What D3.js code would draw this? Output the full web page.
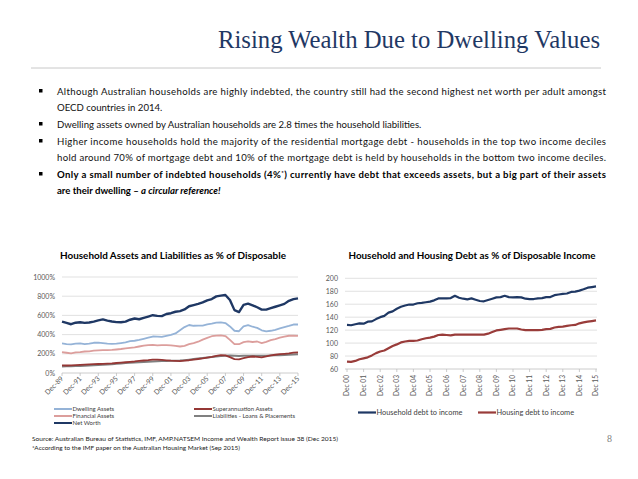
<!DOCTYPE html>
<html>
<head>
<meta charset="utf-8">
<script src="https://d3js.org/d3.v7.min.js"></script>
<style>
body { margin: 0; background: #fff; }
text { font-family: Lato, "Liberation Sans", sans-serif; }
</style>
</head>
<body>
<svg id="slide" width="638" height="479"></svg>
<script>
// ---- data ----
// left chart: half-yearly, Dec-89 .. Dec-15
var leftTicks = ["Dec-89","Dec-91","Dec-93","Dec-95","Dec-97","Dec-99","Dec-01","Dec-03","Dec-05","Dec-07","Dec-09","Dec-11","Dec-13","Dec-15"];
var leftYTicks = [0, 200, 400, 600, 800, 1000];
var dwellingAssets = [308,301,298,306,308,301,305,315,316,312,307,304,305,312,320,332,336,345,356,368,380,378,377,387,397,412,445,478,500,492,494,494,507,515,525,528,520,485,440,435,485,498,482,470,445,433,440,450,465,478,490,505,505];
var financialAssets = [218,211,205,214,218,224,226,233,236,238,239,241,245,250,257,262,266,276,286,291,293,287,290,291,288,282,276,283,300,312,326,348,366,383,390,392,385,345,300,300,322,330,323,328,312,325,342,354,368,378,388,390,387];
var netWorth = [536,522,508,524,528,522,526,535,548,558,545,536,530,528,535,555,568,560,575,588,602,595,592,615,623,638,645,662,695,707,720,735,757,770,798,806,812,760,655,635,710,722,705,685,660,660,675,690,705,720,752,770,778];
var superAssets = [80,78,80,82,85,87,90,92,94,96,98,100,104,108,112,116,120,126,130,134,140,140,136,132,128,126,124,128,133,140,146,152,160,168,178,186,184,165,145,142,155,165,172,168,163,172,183,190,196,200,204,212,214];
var liabilities = [68,70,71,72,74,76,78,80,83,86,89,92,96,100,103,106,109,112,114,117,120,122,124,125,127,128,130,134,139,145,151,157,162,166,171,176,180,181,180,178,179,180,180,180,179,180,182,184,186,188,190,193,196];

// right chart: quarterly, Dec 00 .. Dec 15
var rightTicks = ["Dec 00","Dec 01","Dec 02","Dec 03","Dec 04","Dec 05","Dec 06","Dec 07","Dec 08","Dec 09","Dec 10","Dec 11","Dec 12","Dec 13","Dec 14","Dec 15"];
var rightYTicks = [60, 80, 100, 120, 140, 160, 180, 200];
var householdDebt = [128,127.5,129,130.5,130,133,133.5,137,140,142,147,149,153,156,158,159.5,159.5,161.5,162,163,164,166,169,169,169,169.5,173,170,168.5,167.5,169,167,165,164.5,166.5,168.5,170.5,171,173,171,170.5,171,170.5,168.5,168,168,169,169.5,171,171,174,175,176,176.5,179,179.5,181,183,185.5,186.5,187.5];
var housingDebt = [71.5,71,72.5,75,76.5,78,81,84.5,87,88.5,92,95.5,98,101,102.5,103.5,103.5,104,106,107.5,108.5,110,112.5,113,112.5,112,113,113,113,113,113,113,113,113,114.5,117,119.5,120.5,121.5,122.5,122.5,122.5,121,120,120,120,120,120.5,121.5,122,124,125,125.5,126.5,127.5,128,130.5,132,133,134,135];

var leftSeries = [
  {name: "Dwelling Assets", values: dwellingAssets, color: "#95b3d7", w: 1.8},
  {name: "Financial Assets", values: financialAssets, color: "#dc9e9c", w: 1.8},
  {name: "Liabilities - Loans & Placements", values: liabilities, color: "#808080", w: 2},
  {name: "Superannuation Assets", values: superAssets, color: "#953735", w: 1.8},
  {name: "Net Worth", values: netWorth, color: "#1f3864", w: 2.4}
];
var rightSeries = [
  {name: "Household debt to income", values: householdDebt, color: "#1f3864", w: 2.2},
  {name: "Housing debt to income", values: housingDebt, color: "#993c3a", w: 2.2}
];

var svg = d3.select("#slide");

// ---- header ----
svg.append("text")
  .attr("x", 600).attr("y", 48)
  .attr("text-anchor", "end")
  .style("font-family", "'Liberation Serif', serif")
  .attr("font-size", 25)
  .attr("textLength", 382).attr("lengthAdjust", "spacingAndGlyphs")
  .attr("fill", "#1f3864")
  .text("Rising Wealth Due to Dwelling Values");

svg.append("line")
  .attr("x1", 31).attr("x2", 601).attr("y1", 68).attr("y2", 68)
  .attr("stroke", "#c8c8c8").attr("stroke-width", 1);

// ---- bullets ----
var bulletLines = [
  {y: 95, text: "Although Australian households are highly indebted, the country still had the second highest net worth per adult amongst", bullet: true, justify: true},
  {y: 111, text: "OECD countries in 2014."},
  {y: 128, text: "Dwelling assets owned by Australian households are 2.8 times the household liabilities.", bullet: true},
  {y: 145, text: "Higher income households hold the majority of the residential mortgage debt - households in the top two income deciles", bullet: true, justify: true},
  {y: 161, text: "hold around 70% of mortgage debt and 10% of the mortgage debt is held by households in the bottom two income deciles.", justify: true}
];
var tx = 57, tEnd = 606;
bulletLines.forEach(function(d) {
  if (d.bullet) {
    svg.append("rect").attr("x", 39).attr("y", d.y - 6).attr("width", 3.5).attr("height", 3.5).attr("fill", "#000");
  }
  var t = svg.append("text").attr("x", tx).attr("y", d.y)
    .attr("font-size", 9.6).attr("fill", "#111").text(d.text);
  if (d.justify) t.attr("textLength", tEnd - tx).attr("lengthAdjust", "spacing");
});

svg.append("rect").attr("x", 39).attr("y", 172).attr("width", 3.5).attr("height", 3.5).attr("fill", "#000");
var b6 = svg.append("text").attr("x", tx).attr("y", 178)
  .attr("font-size", 9.6).attr("font-weight", "bold")
  .attr("textLength", tEnd - tx).attr("lengthAdjust", "spacing");
b6.append("tspan").text("Only a small number of indebted households (4%");
b6.append("tspan").attr("font-size", 6).attr("dy", -3).text("*");
b6.append("tspan").attr("dy", 3).text(") currently have debt that exceeds assets, but a big part of their assets");
var b7 = svg.append("text").attr("x", tx).attr("y", 194)
  .attr("font-size", 9.6).attr("font-weight", "bold");
b7.append("tspan").text("are their dwelling \u2013 ");
b7.append("tspan").attr("font-style", "italic").text("a circular reference!");

// ---- left chart ----
var xL = d3.scaleLinear().domain([0, dwellingAssets.length - 1]).range([62, 298]);
var yL = d3.scaleLinear().domain([0, 1000]).range([373, 277]);

svg.append("text").attr("x", 173).attr("y", 259).attr("text-anchor", "middle")
  .attr("font-size", 9).attr("font-weight", "bold").attr("fill", "#000")
  .attr("textLength", 226).attr("lengthAdjust", "spacingAndGlyphs")
  .text("Household Assets and Liabilities as % of Disposable");

var gL = svg.append("g");
gL.selectAll("line.grid").data(leftYTicks.slice(1)).enter().append("line")
  .attr("x1", 62).attr("x2", 298)
  .attr("y1", function(d) { return yL(d); }).attr("y2", function(d) { return yL(d); })
  .attr("stroke", "#d9d9d9").attr("stroke-width", 0.8);
gL.selectAll("text.yl").data(leftYTicks).enter().append("text")
  .attr("x", 55).attr("y", function(d) { return yL(d) + 2.5; })
  .attr("text-anchor", "end").attr("font-size", 7).attr("fill", "#595959")
  .text(function(d) { return d + "%"; });

var line = d3.line().x(function(d, i) { return xL(i); }).y(function(d) { return yL(d); });
leftSeries.forEach(function(s) {
  gL.append("path").datum(s.values).attr("d", line)
    .attr("fill", "none").attr("stroke", s.color).attr("stroke-width", s.w)
    .attr("stroke-linejoin", "round");
});

gL.append("line").attr("x1", 62).attr("x2", 298).attr("y1", 373).attr("y2", 373)
  .attr("stroke", "#bfbfbf").attr("stroke-width", 0.8);
leftTicks.forEach(function(lab, j) {
  var x = xL(j * 4);
  gL.append("line").attr("x1", x).attr("x2", x).attr("y1", 373).attr("y2", 376)
    .attr("stroke", "#bfbfbf").attr("stroke-width", 0.8);
  gL.append("text").attr("transform", "translate(" + (x + 2) + ",379) rotate(-45)")
    .attr("text-anchor", "end").attr("font-size", 7).attr("fill", "#595959").text(lab);
});

// left legend
var legPos = [
  {name: "Dwelling Assets", x: 54, y: 409},
  {name: "Financial Assets", x: 54, y: 416},
  {name: "Net Worth", x: 54, y: 423},
  {name: "Superannuation Assets", x: 194, y: 409},
  {name: "Liabilities - Loans & Placements", x: 194, y: 416}
];
legPos.forEach(function(p) {
  var s = leftSeries.filter(function(d) { return d.name === p.name; })[0];
  svg.append("line").attr("x1", p.x).attr("x2", p.x + 18).attr("y1", p.y).attr("y2", p.y)
    .attr("stroke", s.color).attr("stroke-width", 2);
  svg.append("text").attr("x", p.x + 18.5).attr("y", p.y + 2).attr("font-size", 6)
    .attr("fill", "#404040").text(p.name);
});

// ---- right chart ----
var xR = d3.scaleLinear().domain([0, householdDebt.length - 1]).range([347, 596]);
var yR = d3.scaleLinear().domain([60, 200]).range([369, 278.3]);

svg.append("text").attr("x", 472).attr("y", 259).attr("text-anchor", "middle")
  .attr("font-size", 9).attr("font-weight", "bold").attr("fill", "#000")
  .attr("textLength", 247).attr("lengthAdjust", "spacingAndGlyphs")
  .text("Household and Housing Debt as % of Disposable Income");

var gR = svg.append("g");
gR.selectAll("line.grid").data(rightYTicks).enter().append("line")
  .attr("x1", 345).attr("x2", 597)
  .attr("y1", function(d) { return yR(d); }).attr("y2", function(d) { return yR(d); })
  .attr("stroke", function(d) { return d === 60 ? "#bfbfbf" : "#d9d9d9"; }).attr("stroke-width", 0.8);
gR.selectAll("text.yl").data(rightYTicks).enter().append("text")
  .attr("x", 338).attr("y", function(d) { return yR(d) + 2.5; })
  .attr("text-anchor", "end").attr("font-size", 7).attr("fill", "#595959")
  .text(function(d) { return d; });

var lineR = d3.line().x(function(d, i) { return xR(i); }).y(function(d) { return yR(d); });
rightSeries.forEach(function(s) {
  gR.append("path").datum(s.values).attr("d", lineR)
    .attr("fill", "none").attr("stroke", s.color).attr("stroke-width", s.w)
    .attr("stroke-linejoin", "round");
});
rightTicks.forEach(function(lab, j) {
  var x = xR(j * 4);
  gR.append("line").attr("x1", x).attr("x2", x).attr("y1", 369).attr("y2", 372)
    .attr("stroke", "#bfbfbf").attr("stroke-width", 0.8);
  gR.append("text").attr("transform", "translate(" + (x + 2.3) + ",375) rotate(-90)")
    .attr("text-anchor", "end").attr("font-size", 6.6).attr("fill", "#595959").text(lab);
});

// right legend
var legR = [{x: 358, y: 412.5}, {x: 478, y: 412.5}];
rightSeries.forEach(function(s, i) {
  svg.append("line").attr("x1", legR[i].x).attr("x2", legR[i].x + 18).attr("y1", legR[i].y).attr("y2", legR[i].y)
    .attr("stroke", s.color).attr("stroke-width", 2.2);
  svg.append("text").attr("x", legR[i].x + 18.5).attr("y", legR[i].y + 2.5).attr("font-size", 7.4)
    .attr("fill", "#404040").text(s.name);
});

// ---- footer ----
svg.append("text").attr("x", 32).attr("y", 441).attr("font-size", 6.5).attr("fill", "#222")
  .attr("textLength", 306).attr("lengthAdjust", "spacingAndGlyphs")
  .text("Source: Australian Bureau of Statistics, IMF,  AMP.NATSEM Income and Wealth Report issue 38 (Dec 2015)");
svg.append("text").attr("x", 32).attr("y", 450).attr("font-size", 6.5).attr("fill", "#222")
  .attr("textLength", 208).attr("lengthAdjust", "spacingAndGlyphs")
  .text("*According to the IMF paper on the Australian Housing Market (Sep 2015)");
svg.append("text").attr("x", 607).attr("y", 442).attr("font-size", 10).attr("fill", "#7f7f7f")
  .style("font-family", "'Liberation Serif', serif").text("8");
</script>
</body>
</html>
